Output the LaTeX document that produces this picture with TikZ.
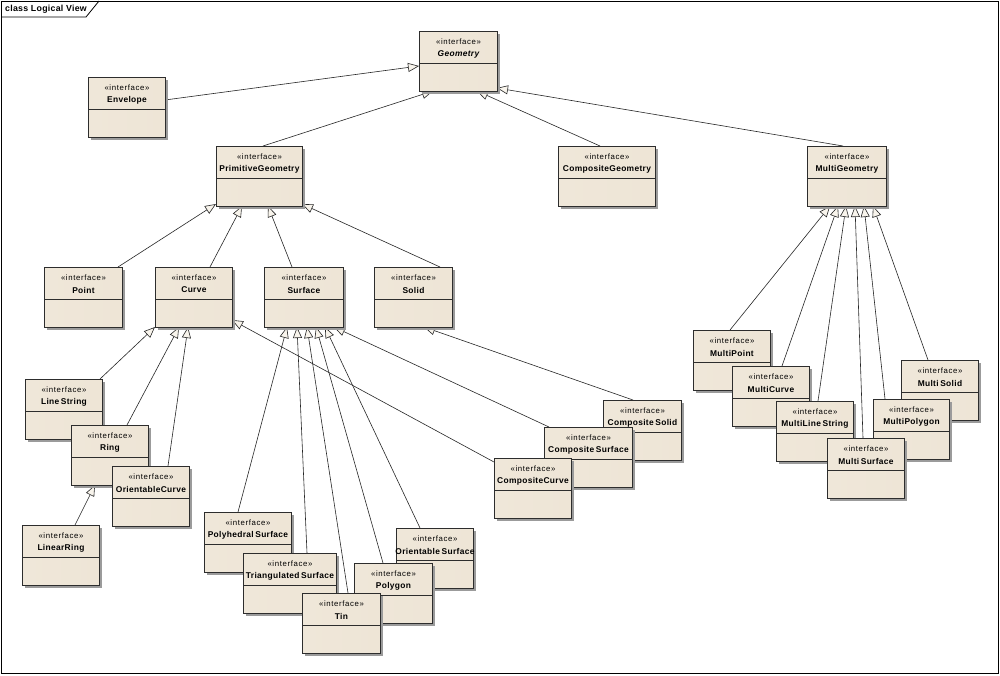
\documentclass[tikz,border=0pt]{standalone}
\usepackage{fontspec}
\setmainfont{Liberation Sans}
\usetikzlibrary{arrows.meta,calc}
\definecolor{boxL}{RGB}{239,231,217}
\definecolor{boxM}{RGB}{249,245,237}
\definecolor{boxR}{RGB}{238,229,214}
\definecolor{boxline}{RGB}{45,45,45}
\definecolor{shadowc}{RGB}{155,155,155}
\definecolor{arrowfill}{RGB}{248,244,236}
\pgfdeclarelayer{bg}
\pgfdeclarelayer{edges}
\pgfsetlayers{bg,edges,main}
\tikzset{
  ibox/.style={rectangle, draw=boxline, line width=0.9pt, left color=boxL, middle color=boxM, right color=boxR, inner sep=0pt, anchor=north west},
  stereo/.style={inner sep=0pt, font=\fontsize{7.8}{9}\selectfont\addfontfeature{LetterSpace=8}},
  cname/.style={inner sep=0pt, font=\fontsize{8.4}{10}\selectfont\bfseries\addfontfeature{LetterSpace=4}},
  gen/.style={draw=black!85, line width=0.6pt, -{Triangle[length=11pt,width=9pt,fill=arrowfill]}},
  divline/.style={draw=boxline, line width=0.9pt},
}
\newcommand{\ibox}[6]{%
  \fill[shadowc] (#2+3,#3+3) rectangle (#2+#4+3,#3+63);
  \node[ibox, minimum width=#4pt, minimum height=60pt] (#1) at (#2,#3) {};
  \draw[divline] ($(#1.north west)+(0,32)$) -- ($(#1.north east)+(0,32)$);
  \node[stereo] (#1-st) at ($(#1.north)+(0,11)$) {«interface»};
  \node[cname] (#1-nm) at ($(#1.north)+(0,23)$) {\spaceskip=1.6pt\relax #6#5};
}
\newcommand{\gedge}[6]{%
  \begin{pgfonlayer}{edges}
  \draw[gen] ($(#1.north west)+(#2,#3)$) -- ($(#4.north west)+(#5,#6)$);
  \end{pgfonlayer}
}
\begin{document}
\begin{tikzpicture}[x=1pt,y=-1pt]
\begin{pgfonlayer}{bg}
\fill[white] (0,0) rectangle (1000,675);
\end{pgfonlayer}
\useasboundingbox (0,0) rectangle (1000,675);
% frame
\draw[black, line width=0.8pt] (1,1) rectangle (998,673);
\draw[black, line width=0.8pt] (1,17) -- (86,17) -- (99,1);
\node[inner sep=0pt, anchor=west, font=\fontsize{8.8}{10}\selectfont\bfseries\addfontfeature{LetterSpace=3}] (frametitle) at (5,9) {class Logical View};

% boxes
\ibox{Envelope}{88}{77}{77}{Envelope}{}
\ibox{Geometry}{419}{31}{78}{Geometry}{\itshape}
\ibox{PrimitiveGeometry}{216}{146}{86}{PrimitiveGeometry}{}
\ibox{CompositeGeometry}{558}{146}{97}{CompositeGeometry}{}
\ibox{MultiGeometry}{807}{146}{79}{MultiGeometry}{}
\ibox{Point}{44}{267}{78}{Point}{}
\ibox{Curve}{155}{267}{77}{Curve}{}
\ibox{Surface}{264}{267}{79}{Surface}{}
\ibox{Solid}{374}{267}{78}{Solid}{}
\ibox{LineString}{25}{379}{77}{Line String}{}
\ibox{Ring}{71}{425}{77}{Ring}{}
\ibox{OrientableCurve}{112}{466}{77}{OrientableCurve}{}
\ibox{LinearRing}{22}{525}{77}{LinearRing}{}
\ibox{PolyhedralSurface}{204}{512}{87}{Polyhedral Surface}{}
\ibox{TriangulatedSurface}{243}{553}{93}{Triangulated Surface}{}
\ibox{OrientableSurface}{396}{528}{77}{Orientable Surface}{}
\ibox{Polygon}{354}{563}{78}{Polygon}{}
\ibox{Tin}{302}{593}{78}{Tin}{}
\ibox{CompositeSolid}{603}{400}{78}{Composite Solid}{}
\ibox{CompositeSurface}{544}{427}{88}{Composite Surface}{}
\ibox{CompositeCurve}{494}{458}{77}{CompositeCurve}{}
\ibox{MultiPoint}{693}{330}{77}{MultiPoint}{}
\ibox{MultiCurve}{732}{366}{77}{MultiCurve}{}
\ibox{MultiLineString}{776}{401}{77}{MultiLine String}{}
\ibox{MultiSolid}{901}{360}{77}{Multi Solid}{}
\ibox{MultiPolygon}{873}{399}{76}{MultiPolygon}{}
\ibox{MultiSurface}{827}{438}{77}{Multi Surface}{}

% generalizations
\gedge{Envelope}{77}{23}{Geometry}{0}{35}
\gedge{PrimitiveGeometry}{47}{0}{Geometry}{14}{60}
\gedge{CompositeGeometry}{42}{0}{Geometry}{58}{60}
\gedge{MultiGeometry}{36}{0}{Geometry}{78}{57}
\gedge{Point}{74}{0}{PrimitiveGeometry}{0}{58}
\gedge{Curve}{55}{0}{PrimitiveGeometry}{26}{60}
\gedge{Surface}{28}{0}{PrimitiveGeometry}{52}{60}
\gedge{Solid}{66}{0}{PrimitiveGeometry}{86}{58}
\gedge{LineString}{75}{0}{Curve}{0}{60}
\gedge{Ring}{56}{0}{Curve}{24}{60}
\gedge{OrientableCurve}{56}{0}{Curve}{33}{60}
\gedge{CompositeCurve}{0}{4}{Curve}{77}{53}
\gedge{LinearRing}{53}{0}{Ring}{24}{60}
\gedge{PolyhedralSurface}{34}{0}{Surface}{23}{60}
\gedge{TriangulatedSurface}{64}{0}{Surface}{33}{60}
\gedge{Tin}{46}{0}{Surface}{43}{60}
\gedge{Polygon}{29}{0}{Surface}{52}{60}
\gedge{OrientableSurface}{24}{0}{Surface}{61}{60}
\gedge{CompositeSurface}{5}{0}{Surface}{70}{60}
\gedge{CompositeSolid}{30}{0}{Solid}{50}{60}
\gedge{MultiPoint}{37}{0}{MultiGeometry}{23}{60}
\gedge{MultiCurve}{50}{0}{MultiGeometry}{31}{60}
\gedge{MultiLineString}{42}{0}{MultiGeometry}{39}{60}
\gedge{MultiSurface}{36}{0}{MultiGeometry}{48}{60}
\gedge{MultiPolygon}{12}{0}{MultiGeometry}{57}{60}
\gedge{MultiSolid}{27}{0}{MultiGeometry}{66}{60}
\end{tikzpicture}
\end{document}
